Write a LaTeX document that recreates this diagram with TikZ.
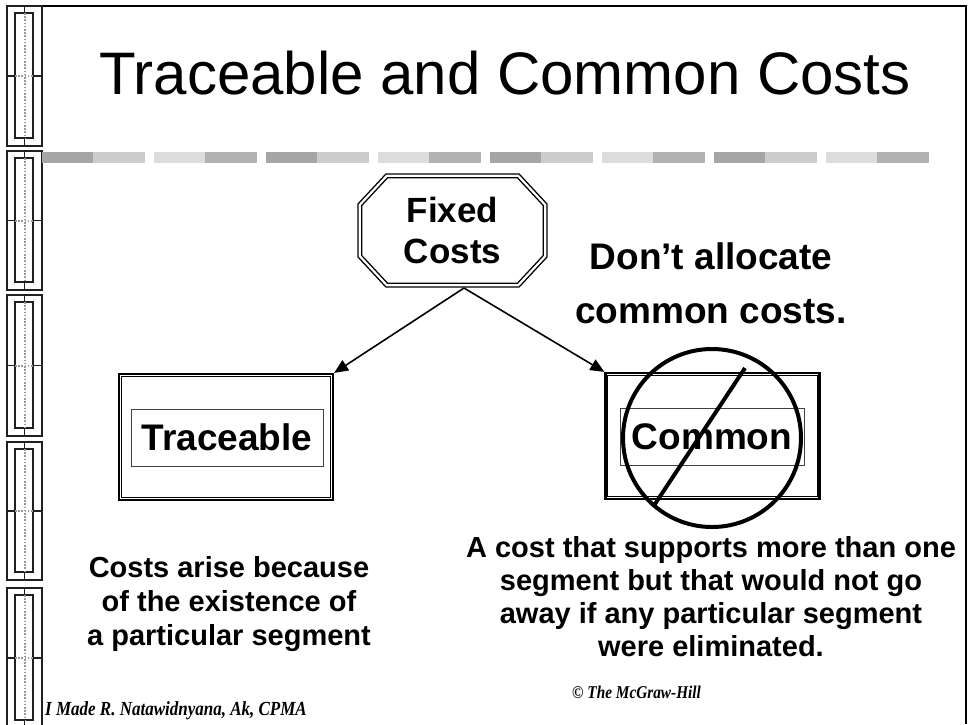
\documentclass[tikz,border=0pt]{standalone}
\usepackage{fontspec}
\setmainfont{Liberation Sans}
\newfontfamily\footfont[FakeStretch=0.85]{Liberation Serif}
\usetikzlibrary{arrows.meta,calc}

\definecolor{barDark}{HTML}{A6A6A6}
\definecolor{barLight}{HTML}{CDCDCD}
\definecolor{barPale}{HTML}{DDDDDD}
\definecolor{barMid}{HTML}{B2B2B2}
\definecolor{stripLine}{HTML}{202020}
\definecolor{stripDots}{HTML}{9A9A9A}

\begin{document}
\begin{tikzpicture}[x=1pt,y=-1pt,
  panel/.style={draw=stripLine,line width=1.5pt},
  dotline/.style={draw=stripDots,line width=2pt,dash pattern=on 1.6pt off 1.6pt},
  octo/.style={draw=black,line width=1.4pt,double=white,double distance=2.2pt},
  outerbox/.style={draw=black,line width=2.2pt,minimum width=214pt,minimum height=126pt,inner sep=0pt},
  innerline/.style={draw=black,line width=1pt},
  labelbox/.style={draw=black!75,line width=1pt,minimum height=57pt,inner sep=0pt,
    font=\fontsize{37}{44}\selectfont\bfseries},
  conn/.style={draw=black,line width=1.6pt,-{Triangle[length=14pt,width=12pt]}},
  desc/.style={align=center,font=\fontsize{29}{34}\selectfont\bfseries},
  strike/.style={draw=black,line width=4pt}
]
\useasboundingbox[fill=white] (0,0) rectangle (968,724);

% slide frame
\draw[black,line width=2.2pt] (7,6) -- (966,6) -- (966,724);

% decorative strip down the left edge
\foreach \t/\b in {6/146,151/290,295/436,442/580,588/728}{
  \pgfmathsetmacro{\m}{(\t+\b)/2}
  \draw[panel] (7,\t) rectangle (42,\b);
  \draw[panel] (15,{\t+7}) rectangle (33,{\b-8});
  \draw[dotline] (24.5,{\t+7}) -- (24.5,{\b-8});
  \draw[dotline] (15,\m) -- (33,\m);
  \draw[panel] (24.5,\t) -- (24.5,{\t+7});
  \draw[panel] (24.5,{\b-8}) -- (24.5,\b);
  \draw[panel] (7,\m) -- (15,\m);
  \draw[panel] (33,\m) -- (42,\m);
}

% title
\node[font=\fontsize{60}{70}\selectfont] (title) at (505,73) {Traceable and Common Costs};

% two-tone rule under the title
\foreach \i in {0,...,7}{
  \pgfmathsetmacro{\xa}{41.5+112*\i}
  \pgfmathsetmacro{\xm}{\xa+51.75}
  \pgfmathsetmacro{\xb}{\xa+103.5}
  \ifodd\i
    \fill[barPale] (\xa,151.5) rectangle (\xm,162.5);
    \fill[barMid] (\xm,151.5) rectangle (\xb,162.5);
  \else
    \fill[barDark] (\xa,151.5) rectangle (\xm,162.5);
    \fill[barLight] (\xm,151.5) rectangle (\xb,162.5);
  \fi
}

% fixed costs octagon
\node[font=\fontsize{35}{41}\selectfont\bfseries,align=center,
  minimum width=185pt,minimum height=109pt,inner sep=0pt] (fixed) at (452.5,230.5) {Fixed\\Costs};
\draw[octo] ($(fixed.north west)+(27,0)$) -- ($(fixed.north east)+(-27,0)$)
  -- ($(fixed.north east)+(0,29)$) -- ($(fixed.south east)+(0,-29)$)
  -- ($(fixed.south east)+(-27,0)$) -- ($(fixed.south west)+(27,0)$)
  -- ($(fixed.south west)+(0,-29)$) -- ($(fixed.north west)+(0,29)$) -- cycle;

% traceable box
\node[outerbox] (tbox) at (226,437) {};
\draw[innerline] ($(tbox.north west)+(3.5,3.5)$) rectangle ($(tbox.south east)+(-3.5,-3.5)$);
\node[labelbox,minimum width=192pt] (tlab) at (227,437.5) {Traceable};

% common box
\node[outerbox] (cbox) at (712.5,436) {};
\draw[innerline] ($(cbox.north west)+(3.5,3.5)$) rectangle ($(cbox.south east)+(-3.5,-3.5)$);
\node[labelbox,minimum width=184pt] (clab) at (712,437) {Common};

% connectors
\coordinate (fork) at (464,288);
\draw[conn] (fork) -- (tbox.north east);
\draw[conn] (fork) -- (cbox.north west);

% no-allocation sign over the common box
\node[circle,draw=black,line width=4pt,minimum size=178pt,inner sep=0pt] (nosign) at (712,438) {};
\coordinate (slashA) at (745,368);
\coordinate (slashB) at (653,507);
\draw[strike] (slashA) -- (slashB);

% remark
\node[align=center,font=\fontsize{37}{54}\selectfont\bfseries] (dont) at (711,283) {Don’t allocate\\common costs.};

% descriptions
\node[desc] (tdesc) at (229,604) {Costs arise because\\of the existence of\\a particular segment};
\node[desc,font=\fontsize{29}{33}\selectfont\bfseries] (cdesc) at (711,597) {A cost that supports more than one\\segment but that would not go\\away if any particular segment\\were eliminated.};

% footer
\node[anchor=base west,inner sep=0pt,font=\footfont\bfseries\itshape\fontsize{20}{20}\selectfont] (author) at (45,715) {I Made R. Natawidnyana, Ak, CPMA};
\node[anchor=base west,inner sep=0pt,font=\footfont\bfseries\itshape\fontsize{18}{18}\selectfont] (copy) at (572,698) {© The McGraw-Hill};
\end{tikzpicture}
\end{document}
